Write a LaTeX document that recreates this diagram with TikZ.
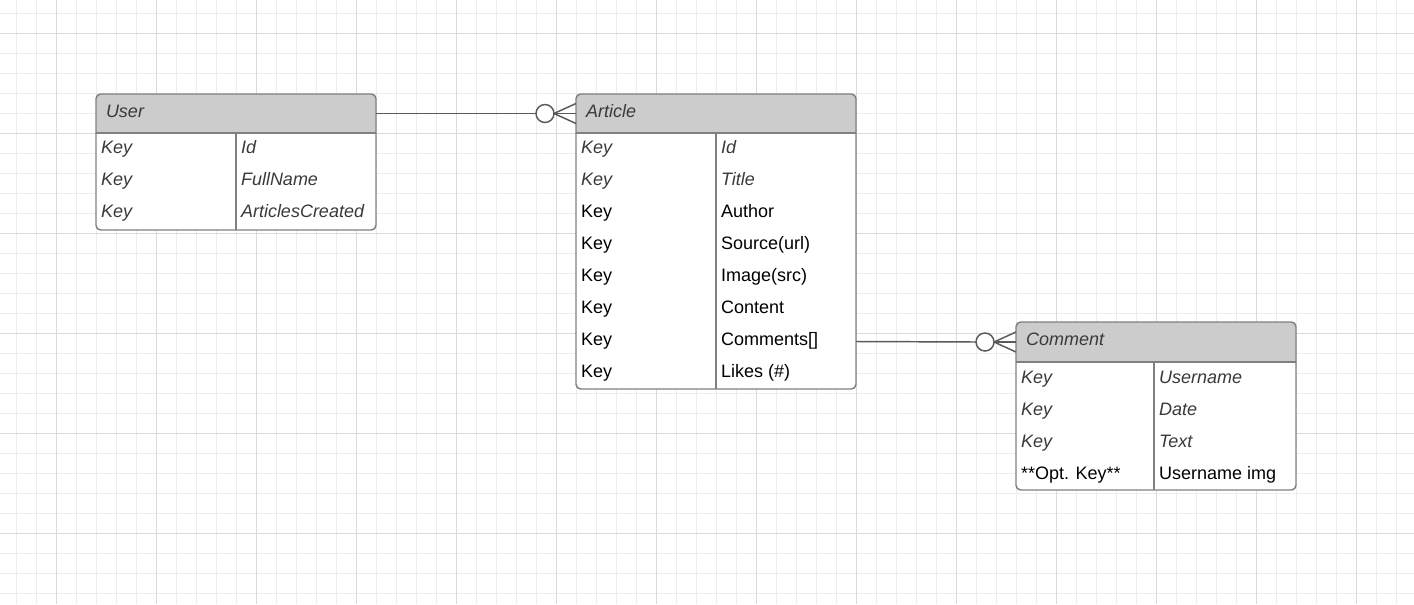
\documentclass[tikz,border=0pt]{standalone}
\usepackage{fontspec}
\setmainfont{Liberation Sans}
\definecolor{gridminor}{HTML}{EDEDED}
\definecolor{gridmajor}{HTML}{DADADA}
\definecolor{hdrfill}{HTML}{CCCCCC}
\definecolor{bordercol}{HTML}{808080}
\definecolor{itcol}{HTML}{3A3A3A}
\definecolor{linecol}{HTML}{5A5A5A}
\begin{document}
\begin{tikzpicture}[x=0.75pt,y=-0.75pt,
  every node/.style={inner sep=0pt, outer sep=0pt},
  itl/.style={anchor=base west, text=itcol, font=\fontsize{13.5pt}{16pt}\selectfont\itshape},
  rgl/.style={anchor=base west, text=black, font=\fontsize{13.5pt}{16pt}\selectfont},
  tbl/.style={draw=bordercol, line width=1.1pt, rounded corners=3.5pt, anchor=north west, minimum width=210pt},
  hdrbox/.style={anchor=north west, minimum width=210pt},
  divider/.style={draw=bordercol, line width=1.1pt},
  conn/.style={draw=linecol, line width=1.1pt},
  zerocirc/.style={circle, draw=linecol, line width=1.1pt, fill=white, minimum size=13.5pt}]
\useasboundingbox (0,0) rectangle (1414,604);
\fill[white] (0,0) rectangle (1414,604);
% grid
\foreach \x in {16,36,...,1414} \draw[gridminor, line width=0.75pt] (\x,0) -- (\x,604);
\foreach \y in {13,33,...,604} \draw[gridminor, line width=0.75pt] (0,\y) -- (1414,\y);
\foreach \x in {56,156,...,1414} \draw[gridmajor, line width=0.75pt] (\x,0) -- (\x,604);
\foreach \y in {33,133,...,604} \draw[gridmajor, line width=0.75pt] (0,\y) -- (1414,\y);

% ---------- User ----------
\fill[white, rounded corners=3.5pt] (96,94) rectangle (376,230);
\fill[hdrfill] (96,133) {[rounded corners=3.5pt] -- (96,94) -- (376,94)} -- (376,133) -- cycle;
\node[hdrbox, minimum height=29.25pt] (uhead) at (96,94) {};
\draw[divider] (96,133) -- (376,133);
\draw[divider] (236,133) -- (236,230);
\node[tbl, minimum height=102pt] (user) at (96,94) {};
\node[itl] (utitle) at (106,117) {User};
\node[itl] (uk1) at (101,153.5) {Key};
\node[itl] (uv1) at (241,153.5) {Id};
\node[itl] (uk2) at (101,185.5) {Key};
\node[itl] (uv2) at (241,185.5) {FullName};
\node[itl] (uk3) at (101,217.5) {Key};
\node[itl] (uv3) at (241,217.5) {ArticlesCreated};

% ---------- Article ----------
\fill[white, rounded corners=3.5pt] (576,94) rectangle (856,389);
\fill[hdrfill] (576,133) {[rounded corners=3.5pt] -- (576,94) -- (856,94)} -- (856,133) -- cycle;
\node[hdrbox, minimum height=29.25pt] (ahead) at (576,94) {};
\draw[divider] (576,133) -- (856,133);
\draw[divider] (716,133) -- (716,389);
\node[tbl, minimum height=221.25pt] (article) at (576,94) {};
\node[itl] (atitle) at (586,117) {Article};
\node[itl] (ak1) at (581,153.5) {Key};
\node[itl] (av1) at (721,153.5) {Id};
\node[itl] (ak2) at (581,185.5) {Key};
\node[itl] (av2) at (721,185.5) {Title};
\node[rgl] (ak3) at (581,217.5) {Key};
\node[rgl] (av3) at (721,217.5) {Author};
\node[rgl] (ak4) at (581,249.5) {Key};
\node[rgl] (av4) at (721,249.5) {Source(url)};
\node[rgl] (ak5) at (581,281.5) {Key};
\node[rgl] (av5) at (721,281.5) {Image(src)};
\node[rgl] (ak6) at (581,313.5) {Key};
\node[rgl] (av6) at (721,313.5) {Content};
\node[rgl] (ak7) at (581,345.5) {Key};
\node[rgl] (av7) at (721,345.5) {Comments[]};
\node[rgl] (ak8) at (581,377.5) {Key};
\node[rgl] (av8) at (721,377.5) {Likes (\#)};
\coordinate (arow7) at (856,341.5);

% ---------- Comment ----------
\fill[white, rounded corners=3.5pt] (1016,322) rectangle (1296,490);
\fill[hdrfill] (1016,362) {[rounded corners=3.5pt] -- (1016,322) -- (1296,322)} -- (1296,362) -- cycle;
\node[hdrbox, minimum height=30pt] (chead) at (1016,322) {};
\draw[divider] (1016,362) -- (1296,362);
\draw[divider] (1154,362) -- (1154,490);
\node[tbl, minimum height=126pt] (comment) at (1016,322) {};
\node[itl] (ctitle) at (1026,345.5) {Comment};
\node[itl] (ck1) at (1021,383) {Key};
\node[itl] (cv1) at (1159,383) {Username};
\node[itl] (ck2) at (1021,415) {Key};
\node[itl] (cv2) at (1159,415) {Date};
\node[itl] (ck3) at (1021,447) {Key};
\node[itl] (cv3) at (1159,447) {Text};
\node[rgl] (ck4) at (1021,479) {**Opt. Key**};
\node[rgl] (cv4) at (1159,479) {Username img};

% ---------- connectors ----------
\node[zerocirc] (c1) at (545,113.5) {};
\draw[conn] (uhead.east) -- (c1.west);
\draw[conn] (c1.east) -- ([yshift=7.5pt]ahead.west);
\draw[conn] (c1.east) -- (ahead.west);
\draw[conn] (c1.east) -- ([yshift=-7.5pt]ahead.west);

\node[zerocirc] (c2) at (985,342) {};
\draw[conn] (arow7) -- (c2.west);
\draw[conn] (c2.east) -- ([yshift=7.5pt]chead.west);
\draw[conn] (c2.east) -- (chead.west);
\draw[conn] (c2.east) -- ([yshift=-7.5pt]chead.west);
\end{tikzpicture}
\end{document}
